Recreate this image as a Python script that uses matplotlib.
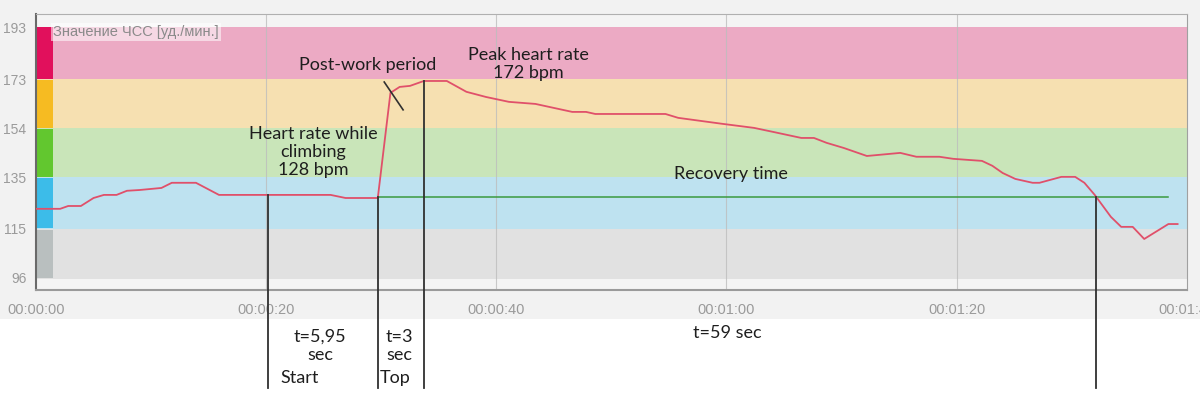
import numpy as np
import matplotlib
matplotlib.use('Agg')
import matplotlib.pyplot as plt
from matplotlib.patches import Rectangle

# heart rate trace (seconds, bpm)
t_sec = [0, 1.5, 2.1, 2.8, 3.9, 5.0, 5.9, 7.0, 7.9, 9.0, 10.9, 11.8, 13.9, 15.9,
         25.6, 26.9, 29.7, 30.8, 31.6, 32.5, 33.7, 35.7, 37.4, 39.1, 41.1, 43.4,
         46.6, 47.8, 48.6, 54.7, 55.8, 59.6, 62.4, 64.1, 66.5, 67.6, 68.7, 70.2,
         72.2, 75.1, 76.5, 78.5, 79.7, 82.2, 83.1, 84.0, 85.1, 86.6, 87.2, 89.1,
         90.3, 91.1, 92.0, 93.4, 94.3, 95.3, 96.3, 98.4, 99.2]
hr_bpm = [122.8, 122.8, 122.8, 123.9, 123.9, 127.0, 128.2, 128.2, 129.8, 130.1, 130.9, 132.9, 132.9, 128.2,
          128.2, 127.0, 127.0, 167.8, 170.1, 170.5, 172.4, 172.4, 168.2, 166.2, 164.3, 163.5,
          160.4, 160.4, 159.6, 159.6, 158.1, 155.8, 154.2, 152.6, 150.3, 150.3, 148.4, 146.4,
          143.3, 144.5, 143.0, 143.0, 142.2, 141.4, 139.5, 136.7, 134.4, 132.9, 132.9, 135.2,
          135.2, 132.9, 128.2, 119.7, 115.8, 115.8, 111.1, 116.9, 116.9]

# heart rate zones
zone_edges = [95.5, 115, 135, 154, 173, 193.5]
zone_bg = ['#e1e1e1', '#bee2f0', '#c9e5b9', '#f6e0b1', '#ecaac4']
zone_bar = ['#b9bfbf', '#3cbce9', '#62c72f', '#f6bb22', '#e1105c']

y_ticks = [96, 115, 135, 154, 173, 193]
x_ticks = [0, 20, 40, 60, 80, 100]
x_labels = ['00:00:00', '00:00:20', '00:00:40', '00:01:00', '00:01:20', '00:01:40']

# recovery reference level
recovery_bpm = 127.4
recovery_span = [29.7, 98.4]

# marker lines (time, bpm where the line starts)
event_t = [20.2, 29.7, 33.7, 92.1]
event_bpm = [128.2, 127.4, 172.4, 127.4]

fig = plt.figure(figsize=(12, 3.97), dpi=100)
fig.patch.set_facecolor('white')
fig.patches.append(Rectangle((0, 0.1965), 1, 1 - 0.1965, transform=fig.transFigure,
                             facecolor='#f2f2f2', edgecolor='none', zorder=-10))
ax = fig.add_axes([0.03, 0.2695, 0.959, 0.6953])
ax.set_facecolor('#f4f4f4')
ax.set_xlim(0, 99.2)
ax.set_ylim(91.3, 198.4)
ylo, yhi = ax.get_ylim()

bar_w = 1.47 / 99.2
for i in range(len(zone_bg)):
    ax.axhspan(zone_edges[i], zone_edges[i + 1], color=zone_bg[i], lw=0, zorder=0)
    ax.axhspan(zone_edges[i] + 0.3, zone_edges[i + 1] - 0.3, xmin=0, xmax=bar_w,
               color=zone_bar[i], lw=0, zorder=1)

for xt in x_ticks[1:-1]:
    ax.axvline(xt, color='#bdbdbd', lw=0.8, alpha=0.8, zorder=1.5)

ax.plot(recovery_span, [recovery_bpm, recovery_bpm], color='#3b9a3f', lw=1.1, zorder=3)
ax.plot(t_sec, hr_bpm, color='#e0506a', lw=1.3, zorder=4)

bottom = ylo - 0.355 * (yhi - ylo)
for t, b in zip(event_t, event_bpm):
    ax.plot([t, t], [b, bottom], color='#303030', lw=1.3, zorder=5, clip_on=False)
ax.plot([30.26, 31.9], [172.0, 161.2], color='#303030', lw=1.2, zorder=5)

ax.set_xticks(x_ticks)
ax.set_xticklabels(x_labels)
ax.set_yticks(y_ticks)
ax.tick_params(axis='x', length=0, pad=9, colors='#9a9a9a', labelsize=10.5)
ax.tick_params(axis='y', length=0, pad=7, colors='#9a9a9a', labelsize=10)
for lbl in ax.get_xticklabels() + ax.get_yticklabels():
    lbl.set_fontfamily('Liberation Sans')

ax.spines['left'].set_color('#6a6a6a')
ax.spines['left'].set_linewidth(1.5)
ax.spines['bottom'].set_color('#9a9a9a')
ax.spines['bottom'].set_linewidth(1.5)
ax.spines['top'].set_color('#b0b0b0')
ax.spines['right'].set_color('#a0a0a0')

ax.text(1.5, 191.3, 'Значение ЧСС [уд./мин.]', fontsize=10.5, color='#8a8a8a',
        family='Liberation Sans', va='center', ha='left', zorder=6,
        bbox=dict(boxstyle='square,pad=0.15', facecolor='white', alpha=0.55, edgecolor='none'))

fnt = dict(family='Lato', fontsize=13, color='#1e1e1e', ha='center', va='center', zorder=6)
ax.text(28.8, 178.6, 'Post-work period', **fnt)
ax.text(42.8, 179.0, 'Peak heart rate\n172 bpm', linespacing=1.15, **fnt)
ax.text(24.1, 144.9, 'Heart rate while\nclimbing\n128 bpm', linespacing=1.15, **fnt)
ax.text(60.4, 136.4, 'Recovery time', **fnt)

tr = ax.get_xaxis_transform()
ax.text(24.7, -0.203, 't=5,95\nsec', transform=tr, linespacing=1.15, **fnt)
ax.text(31.6, -0.203, 't=3\nsec', transform=tr, linespacing=1.15, **fnt)
ax.text(60.1, -0.156, 't=59 sec', transform=tr, **fnt)
fnt_l = dict(fnt, ha='left')
ax.text(21.2, -0.32, 'Start', transform=tr, **fnt_l)
ax.text(29.9, -0.32, 'Top', transform=tr, **fnt_l)

plt.savefig('out.png', dpi=100)
